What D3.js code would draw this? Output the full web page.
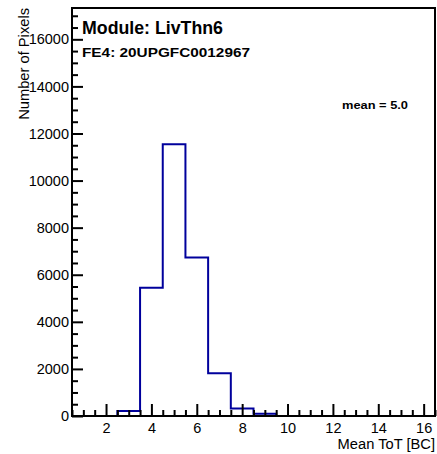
<!DOCTYPE html>
<html><head><meta charset="utf-8">
<script src="https://cdn.jsdelivr.net/npm/d3@7"></script>
<style>body{margin:0;background:#fff}svg{display:block}text{font-family:"Liberation Sans",Arial,Helvetica,sans-serif}</style>
</head><body>
<script>
const binCenters = [1,2,3,4,5,6,7,8,9,10,11,12,13,14,15,16];
const binCounts  = [0,0,210,5445,11540,6732,1812,318,98,0,0,0,0,0,0,0];
const xMajorTicks = [2,4,6,8,10,12,14,16];
const yMajorTicks = [0,2000,4000,6000,8000,10000,12000,14000,16000];
const titleText = "Module: LivThn6";
const feText = "FE4: 20UPGFC0012967";
const meanText = "mean = 5.0";
const xTitle = "Mean ToT [BC]";
const yTitle = "Number of Pixels";

const W = 437, H = 454;
const L = 72, R = 435, T = 8, B = 416;
const svg = d3.select("body").append("svg").attr("width", W).attr("height", H);
const x = d3.scaleLinear().domain([0.5, 16.5]).range([L, R]);
const y = d3.scaleLinear().domain([0, 17330]).range([B, T]);

// histogram outline
const pts = [];
binCenters.forEach((c, i) => {
  pts.push([c - 0.5, binCounts[i]]);
  pts.push([c + 0.5, binCounts[i]]);
});
const line = d3.line().x(d => x(d[0])).y(d => y(d[1]));
svg.append("path").attr("d", line(pts)).attr("fill", "none")
  .attr("stroke", "#00009c").attr("stroke-width", 2);

// minor ticks
const xMinor = d3.range(0.5, 16.51, 0.5).filter(v => Math.abs(v / 2 - Math.round(v / 2)) > 1e-6);
const yMinor = d3.range(0, 17330, 500).filter(v => v % 2000 !== 0);

const gx = svg.append("g").attr("transform", `translate(0,${B})`)
  .call(d3.axisBottom(x).tickValues(xMajorTicks).tickSizeInner(-12).tickSizeOuter(0).tickPadding(7).tickFormat(d3.format("d")));
const gxm = svg.append("g").attr("transform", `translate(0,${B})`)
  .call(d3.axisBottom(x).tickValues(xMinor).tickSizeInner(-6).tickSizeOuter(0).tickFormat(""));
const gy = svg.append("g").attr("transform", `translate(${L},0)`)
  .call(d3.axisLeft(y).tickValues(yMajorTicks).tickSizeInner(-11).tickSizeOuter(0).tickPadding(3).tickFormat(d3.format("d")));
const gym = svg.append("g").attr("transform", `translate(${L},0)`)
  .call(d3.axisLeft(y).tickValues(yMinor).tickSizeInner(-6).tickSizeOuter(0).tickFormat(""));
[gx, gxm, gy, gym].forEach(g => {
  g.select(".domain").remove();
  g.selectAll(".tick line").attr("stroke", "#000").attr("stroke-width", 2);
  g.selectAll(".tick text").attr("font-size", 14.5).attr("fill", "#000")
    .style("font-family", '"Liberation Sans",Arial,sans-serif');
});

// frame
svg.append("rect").attr("x", L).attr("y", T).attr("width", R - L).attr("height", B - T)
  .attr("fill", "none").attr("stroke", "#000").attr("stroke-width", 2);

// titles
svg.append("text").attr("x", R).attr("y", 449).attr("text-anchor", "end")
  .attr("font-size", 14.7).text(xTitle);
svg.append("text").attr("transform", `translate(29,8) rotate(-90)`).attr("text-anchor", "end")
  .attr("font-size", 14.7).text(yTitle);

svg.append("text").attr("x", 82).attr("y", 34).attr("font-weight", "bold")
  .attr("font-size", 17.5).attr("textLength", 141).attr("lengthAdjust", "spacingAndGlyphs").text(titleText);
svg.append("text").attr("x", 82).attr("y", 57).attr("font-weight", "bold")
  .attr("font-size", 13.5).attr("textLength", 168).attr("lengthAdjust", "spacingAndGlyphs").text(feText);
svg.append("text").attr("x", 342).attr("y", 109).attr("font-weight", "bold")
  .attr("font-size", 11).attr("textLength", 66).attr("lengthAdjust", "spacingAndGlyphs").text(meanText);
</script>
</body></html>
